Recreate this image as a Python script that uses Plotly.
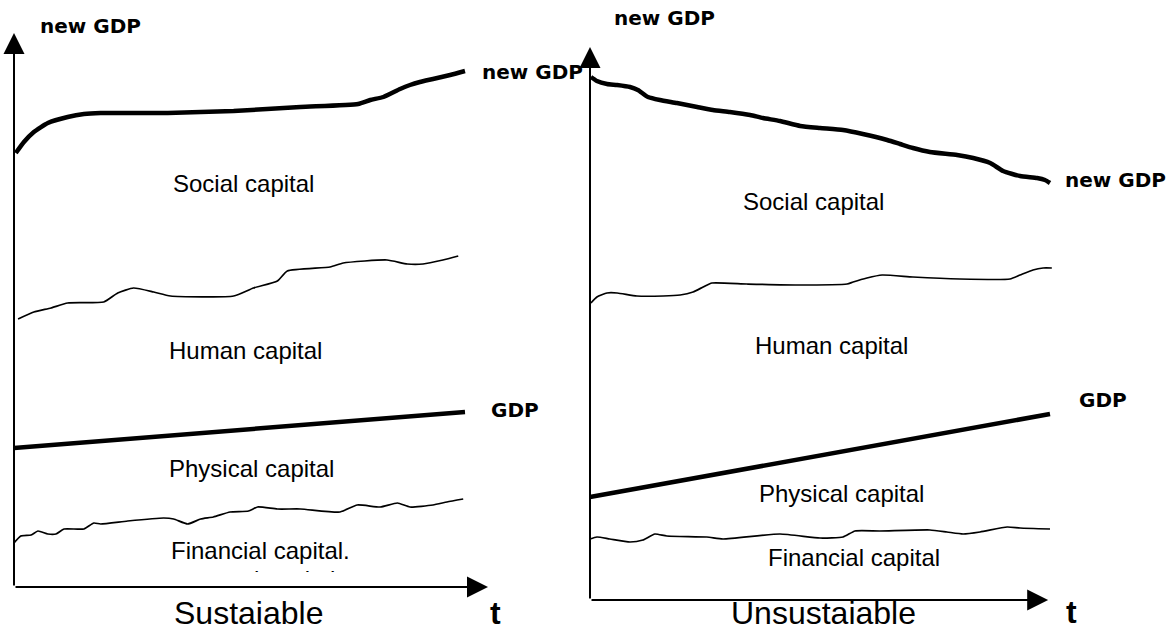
import plotly.graph_objects as go

# ---------------- data: left panel "Sustaiable" ----------------
L_newgdp_t = [0.04, 0.22, 0.44, 0.75, 1.19, 1.55, 1.92, 3.41, 4.87, 6.35, 7.63, 7.90, 8.19, 8.56, 8.78, 9.00, 9.29, 9.67, 10.0]
L_newgdp_v = [86.8, 89.0, 91.0, 92.8, 94.0, 94.6, 94.8, 94.8, 95.2, 96.0, 96.6, 97.4, 98.0, 99.6, 100.4, 101.0, 101.6, 102.4, 103.2]

L_human_t = [0.09, 0.44, 0.82, 1.19, 1.99, 2.30, 2.65, 3.10, 3.47, 4.87, 5.31, 5.84, 6.06, 7.01, 7.30, 8.27, 8.72, 9.07, 9.51, 9.85]
L_human_v = [53.6, 55.0, 55.8, 56.8, 57.0, 58.8, 59.8, 59.0, 58.2, 58.2, 59.8, 61.2, 63.2, 64.0, 64.8, 65.4, 64.6, 64.6, 65.4, 66.2]

L_gdp_t = [0.0, 10.0]
L_gdp_v = [27.8, 35.0]

L_fin_t = [0.0, 0.15, 0.38, 0.53, 0.75, 0.93, 1.11, 1.55, 1.77, 1.92, 2.52, 3.32, 3.54, 3.85, 4.14,
           4.42, 4.79, 5.20, 5.40, 5.84, 6.35, 7.23, 7.61, 8.12, 8.50, 8.78, 9.29, 9.60, 9.96]
L_fin_v = [8.8, 10.2, 10.4, 11.2, 10.6, 10.6, 11.6, 11.6, 12.8, 12.6, 13.2, 13.8, 13.6, 12.6, 13.6,
           14.0, 15.0, 15.2, 16.0, 15.6, 15.6, 15.0, 16.4, 16.0, 16.8, 16.0, 16.4, 17.0, 17.6]

# ---------------- data: right panel "Unsustaiable" ----------------
R_newgdp_t = [0.02, 0.15, 0.37, 0.59, 0.87, 1.04, 1.26, 1.52, 1.89, 2.33, 2.67, 3.04, 3.48, 3.76, 4.13, 4.57,
              5.00, 5.50, 5.93, 6.46, 6.74, 7.02, 7.39, 7.98, 8.33, 8.70, 8.98, 9.35, 9.72, 9.89, 10.0]
R_newgdp_v = [104.6, 103.8, 103.2, 103.0, 102.6, 102.0, 100.6, 100.0, 99.4, 98.6, 98.0, 97.6, 97.0, 96.4, 95.8, 94.8,
              94.4, 94.0, 93.2, 92.0, 91.2, 90.4, 89.6, 89.0, 88.4, 87.4, 85.8, 84.8, 84.4, 84.0, 83.4]

R_human_t = [0.02, 0.15, 0.37, 0.59, 1.02, 1.59, 1.96, 2.24, 2.46, 2.65, 3.41, 4.50, 5.59, 5.72, 6.02, 6.35,
             7.02, 8.04, 9.13, 9.35, 9.63, 9.85, 10.04]
R_human_v = [59.4, 60.6, 61.4, 61.4, 60.8, 60.8, 61.0, 61.6, 62.6, 63.4, 63.2, 63.0, 63.2, 63.6, 64.4, 65.0,
             64.6, 64.2, 64.2, 65.0, 66.0, 66.4, 66.4]

R_gdp_t = [0.0, 10.0]
R_gdp_v = [20.6, 37.2]

R_fin_t = [0.0, 0.15, 0.43, 0.87, 1.15, 1.41, 1.67, 2.54, 2.89, 4.13, 5.00, 5.50, 5.76, 6.30, 7.39, 7.76,
           8.11, 8.48, 9.07, 9.35, 10.0]
R_fin_v = [12.2, 12.6, 12.2, 11.6, 12.0, 13.2, 12.8, 12.6, 12.2, 13.2, 12.4, 12.6, 13.8, 13.8, 14.0, 13.6,
           13.2, 13.6, 14.6, 14.4, 14.2]

# axis arrow extents (data units)
L_tmax, L_vmax = 10.51, 110.8
R_tmax, R_vmax = 9.96, 110.6

# text labels
band_labels = ["Social capital", "Human capital", "Physical capital"]
L_fin_label = "Financial capital."
L_fin_label2 = "natural capital"
R_fin_label = "Financial capital"
L_title, R_title = "Sustaiable", "Unsustaiable"

# ---------------- figure ----------------
W, H = 1172, 632
# panel placement: pixel of the origin and pixels per data unit
L_org, L_scale = (14, 587), (45.1, 5.0)
R_org, R_scale = (590, 600), (46.0, 5.0)


def xrange_for(org, scale):
    return [-org[0] / scale[0], (W - org[0]) / scale[0]]


def yrange_for(org, scale, bottom_px=H):
    return [(org[1] - bottom_px) / scale[1], org[1] / scale[1]]


fig = go.Figure()

thick = dict(color="black", width=4.5)
thin = dict(color="black", width=1.7)


def add_line(t, v, line, xa, ya):
    fig.add_trace(go.Scatter(x=t, y=v, mode="lines", line=dict(shape="spline", smoothing=0.5, **line),
                             xaxis=xa, yaxis=ya, hoverinfo="skip", showlegend=False))


add_line(L_newgdp_t, L_newgdp_v, thick, "x", "y")
add_line(L_human_t, L_human_v, thin, "x", "y")
add_line(L_gdp_t, L_gdp_v, thick, "x", "y")
add_line(L_fin_t, L_fin_v, thin, "x", "y")

add_line(R_newgdp_t, R_newgdp_v, thick, "x2", "y2")
add_line(R_human_t, R_human_v, thin, "x2", "y2")
add_line(R_gdp_t, R_gdp_v, thick, "x2", "y2")
add_line(R_fin_t, R_fin_v, thin, "x2", "y2")

# clipped second line under "Financial capital." (left panel), cut off at y=572px
clip_px = 572
fig.add_trace(go.Scatter(x=[5.47], y=[1.0], mode="text", text=[L_fin_label2], textposition="middle center",
                         textfont=dict(family="Liberation Sans, Arial", size=24, color="black"),
                         cliponaxis=True, xaxis="x3", yaxis="y3", hoverinfo="skip", showlegend=False))

hidden = dict(showgrid=False, zeroline=False, showticklabels=False, showline=False, ticks="", fixedrange=True)
fig.update_layout(
    width=W, height=H, margin=dict(l=0, r=0, t=0, b=0, pad=0),
    paper_bgcolor="white", plot_bgcolor="rgba(0,0,0,0)",
    xaxis=dict(domain=[0, 1], range=xrange_for(L_org, L_scale), **hidden),
    yaxis=dict(domain=[0, 1], range=yrange_for(L_org, L_scale), **hidden),
    xaxis2=dict(domain=[0, 1], range=xrange_for(R_org, R_scale), anchor="y2", **hidden),
    yaxis2=dict(domain=[0, 1], range=yrange_for(R_org, R_scale), anchor="x2", **hidden),
    xaxis3=dict(domain=[0, 1], range=xrange_for(L_org, L_scale), anchor="y3", **hidden),
    yaxis3=dict(domain=[(H - clip_px) / H, 1], range=[(L_org[1] - clip_px) / L_scale[1], L_org[1] / L_scale[1]],
                anchor="x3", **hidden),
    showlegend=False,
)

reg = "Liberation Sans, Arial, sans-serif"
bold = "DejaVu Sans, sans-serif"
ann = []


def arrow(xr, yr, x, y):
    ann.append(dict(xref=xr, yref=yr, axref=xr, ayref=yr, x=x, y=y, ax=0, ay=0, text="",
                    showarrow=True, arrowhead=2, arrowsize=2.1, arrowwidth=2, arrowcolor="black"))


arrow("x", "y", 0, L_vmax)
arrow("x", "y", L_tmax, 0)
arrow("x2", "y2", 0, R_vmax)
arrow("x2", "y2", R_tmax, 0)


def label(xr, yr, x, y, text, family, size, xanchor="center", b=False):
    ann.append(dict(xref=xr, yref=yr, x=x, y=y, text=("<b>%s</b>" % text) if b else text,
                    showarrow=False, xanchor=xanchor, yanchor="middle",
                    font=dict(family=family, size=size, color="black")))


# left panel texts
label("x", "y", 1.70, 112.2, "new GDP", bold, 20, b=True)
label("x", "y", 10.33, 103.0, "new GDP", bold, 20, "left", b=True)
label("x", "y", 5.08, 80.8, band_labels[0], reg, 24)
label("x", "y", 5.13, 47.4, band_labels[1], reg, 24)
label("x", "y", 10.53, 35.5, "GDP", bold, 20, "left", b=True)
label("x", "y", 5.27, 23.8, band_labels[2], reg, 24)
label("x", "y", 5.47, 7.4, L_fin_label, reg, 24)
label("x", "y", 5.21, -5.2, L_title, reg, 32)
label("x", "y", 10.67, -5.2, "t", reg, 32, b=True)

# right panel texts
label("x2", "y2", 1.62, 116.5, "new GDP", bold, 20, b=True)
label("x2", "y2", 10.28, 84.0, "new GDP", bold, 20, "left", b=True)
label("x2", "y2", 4.85, 79.8, band_labels[0], reg, 24)
label("x2", "y2", 5.26, 51.0, band_labels[1], reg, 24)
label("x2", "y2", 10.59, 40.0, "GDP", bold, 20, "left", b=True)
label("x2", "y2", 5.46, 21.4, band_labels[2], reg, 24)
label("x2", "y2", 5.74, 8.6, R_fin_label, reg, 24)
label("x2", "y2", 5.07, -2.6, R_title, reg, 32)
label("x2", "y2", 10.46, -2.4, "t", reg, 32, b=True)

fig.update_layout(annotations=ann)
fig.write_html("out.html", config={"displayModeBar": False},
               post_script="document.body.style.margin='0';document.body.style.overflow='hidden';")
